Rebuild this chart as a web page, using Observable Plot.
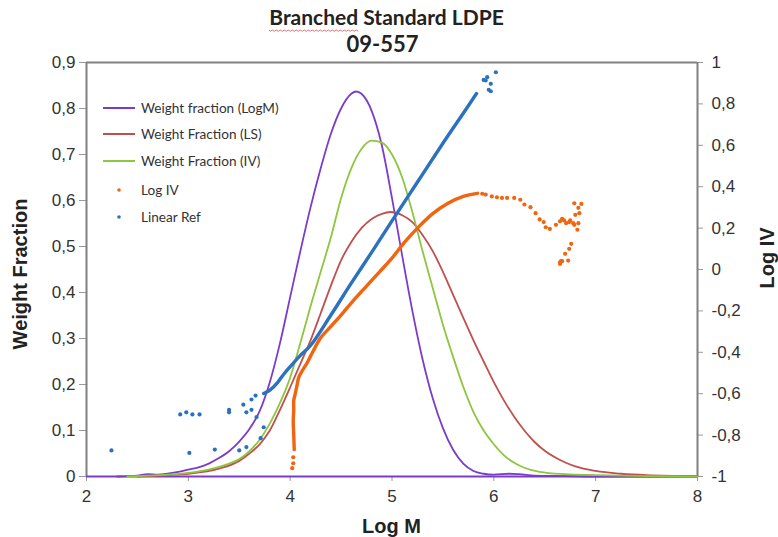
<!DOCTYPE html>
<html>
<head>
<meta charset="utf-8">
<script src="https://cdn.jsdelivr.net/npm/d3@7"></script>
<script src="https://cdn.jsdelivr.net/npm/@observablehq/plot@0.6"></script>
<style>
  html, body { margin: 0; padding: 0; background: #fff; }
  svg { display: block; }
</style>
</head>
<body>
<script>
// ---- Weight fraction curves (left axis) ----
const logMX = [2.3, 2.5, 2.6, 2.7, 2.9, 3.0, 3.1, 3.2, 3.3, 3.4, 3.5, 3.6, 3.7, 3.8, 3.9, 4.0, 4.1, 4.2, 4.3, 4.4, 4.5, 4.6, 4.65, 4.7, 4.8, 4.9, 5.0, 5.1, 5.2, 5.3, 5.4, 5.5, 5.6, 5.7, 5.8, 5.9, 6.0, 6.15, 6.25, 6.4, 6.7, 7.0, 8.0];
const logMY = [0, 0.002, 0.005, 0.004, 0.01, 0.015, 0.02, 0.028, 0.04, 0.055, 0.076, 0.103, 0.142, 0.205, 0.29, 0.39, 0.49, 0.585, 0.67, 0.745, 0.80, 0.832, 0.837, 0.832, 0.795, 0.72, 0.605, 0.48, 0.36, 0.255, 0.17, 0.105, 0.058, 0.028, 0.012, 0.006, 0.004, 0.006, 0.005, 0.002, 0.001, 0, 0];

const lsX = [2.5, 2.8, 3.0, 3.3, 3.5, 3.6, 3.7, 3.8, 3.9, 4.0, 4.1, 4.2, 4.3, 4.4, 4.5, 4.6, 4.7, 4.8, 4.9, 4.985, 5.1, 5.2, 5.3, 5.4, 5.5, 5.6, 5.7, 5.8, 5.9, 6.0, 6.1, 6.2, 6.3, 6.4, 6.5, 6.65, 6.8, 7.0, 7.25, 7.5, 8.0];
const lsY = [0, 0.003, 0.006, 0.017, 0.034, 0.05, 0.07, 0.1, 0.145, 0.194, 0.245, 0.296, 0.355, 0.415, 0.47, 0.51, 0.54, 0.56, 0.571, 0.575, 0.568, 0.553, 0.525, 0.49, 0.445, 0.395, 0.345, 0.296, 0.25, 0.205, 0.165, 0.13, 0.1, 0.075, 0.056, 0.036, 0.022, 0.012, 0.006, 0.003, 0.001];

const ivX = [2.4, 2.6, 2.8, 3.0, 3.2, 3.4, 3.5, 3.6, 3.7, 3.8, 3.9, 4.0, 4.1, 4.2, 4.3, 4.4, 4.5, 4.6, 4.7, 4.8, 4.9, 5.0, 5.1, 5.2, 5.3, 5.4, 5.5, 5.6, 5.7, 5.8, 5.9, 6.0, 6.1, 6.2, 6.3, 6.45, 6.7, 7.0, 7.5, 8.0];
const ivY = [0, 0.002, 0.004, 0.008, 0.015, 0.028, 0.038, 0.055, 0.08, 0.115, 0.16, 0.215, 0.29, 0.37, 0.445, 0.52, 0.605, 0.67, 0.712, 0.73, 0.726, 0.70, 0.65, 0.575, 0.49, 0.41, 0.33, 0.26, 0.195, 0.14, 0.10, 0.07, 0.046, 0.03, 0.019, 0.01, 0.005, 0.003, 0.001, 0];

// ---- Log IV (right axis): dense ridge and isolated points ----
const logIvBandX = [4.04, 4.035, 4.03, 4.035, 4.035, 4.05, 4.07, 4.085, 4.12, 4.17, 4.23, 4.3, 4.4, 4.5, 4.62, 4.75, 4.88, 5.0, 5.12, 5.25, 5.4, 5.55, 5.7, 5.84];
const logIvBandY = [-0.87, -0.80, -0.73, -0.68, -0.633, -0.60, -0.552, -0.52, -0.488, -0.448, -0.39, -0.33, -0.275, -0.22, -0.15, -0.08, -0.01, 0.055, 0.13, 0.20, 0.27, 0.32, 0.353, 0.368];
const logIvDotsX = [4.02, 4.03, 4.03, 5.886, 5.92, 5.98, 6.03, 6.08, 6.13, 6.20, 6.26, 6.30, 6.36, 6.41, 6.45, 6.49, 6.51, 6.55, 6.61, 6.65, 6.67, 6.69, 6.71, 6.74, 6.75, 6.78, 6.79, 6.82, 6.83, 6.84, 6.83, 6.79, 6.86, 6.80, 6.76, 6.74, 6.70, 6.73, 6.67, 6.65, 6.65, 6.66];
const logIvDotsY = [-0.96, -0.936, -0.907, 0.366, 0.362, 0.353, 0.349, 0.346, 0.346, 0.346, 0.337, 0.314, 0.301, 0.272, 0.242, 0.229, 0.204, 0.196, 0.216, 0.233, 0.245, 0.237, 0.224, 0.229, 0.237, 0.224, 0.216, 0.192, 0.224, 0.272, 0.298, 0.320, 0.317, 0.264, 0.124, 0.100, 0.076, 0.043, 0.040, 0.035, 0.027, 0.040];

// ---- Linear reference (right axis) ----
const linRefBandX = [3.74, 3.807, 3.876, 3.935, 4.003, 4.10, 4.20, 4.4, 4.6, 4.8, 5.0, 5.26, 5.5, 5.7, 5.83];
const linRefBandY = [-0.599, -0.58, -0.546, -0.507, -0.468, -0.415, -0.367, -0.22, -0.066, 0.083, 0.235, 0.43, 0.61, 0.755, 0.85];
const linRefDotsX = [2.245, 2.92, 2.98, 3.04, 3.11, 3.01, 3.26, 3.40, 3.40, 3.50, 3.57, 3.54, 3.57, 3.62, 3.62, 3.66, 3.67, 3.74, 3.71, 5.90, 5.92, 5.935, 5.95, 5.97, 5.97, 6.02];
const linRefDotsY = [-0.874, -0.70, -0.69, -0.70, -0.70, -0.886, -0.87, -0.678, -0.690, -0.874, -0.858, -0.653, -0.690, -0.678, -0.628, -0.609, -0.713, -0.762, -0.815, 0.916, 0.913, 0.929, 0.868, 0.861, 0.897, 0.953];

// ---- Axis ticks ----
const xTicks = [2, 3, 4, 5, 6, 7, 8];
const leftTicks = [0, 0.1, 0.2, 0.3, 0.4, 0.5, 0.6, 0.7, 0.8, 0.9];
const rightTicks = [-1, -0.8, -0.6, -0.4, -0.2, 0, 0.2, 0.4, 0.6, 0.8, 1];

const colors = {
  logM: "#7b3cc8",
  ls: "#c0504d",
  iv: "#8dc63f",
  logIv: "#f0650e",
  linRef: "#2a72c0",
  frame: "#808080"
};

// right axis (-1..1) mapped onto the left scale (0..0.9)
const toLeft = r => (r + 1) * 0.45;
const fromLeft = v => Math.round((v / 0.45 - 1) * 10) / 10;
const comma = v => (Math.round(v * 10) / 10).toString().replace(".", ",");

const pts = (xs, ys, f = d => d) => xs.map((x, i) => ({x, y: f(ys[i])}));

const logM = pts(logMX, logMY);
const ls = pts(lsX, lsY);
const iv = pts(ivX, ivY);
const logIvBand = pts(logIvBandX, logIvBandY, toLeft);
const logIvDots = pts(logIvDotsX, logIvDotsY, toLeft);
const linRefBand = pts(linRefBandX, linRefBandY, toLeft);
const linRefDots = pts(linRefDotsX, linRefDotsY, toLeft);

const W = 778, H = 537;
const mL = 86, mR = 81, mT = 62, mB = 61;

const chart = Plot.plot({
  width: W,
  height: H,
  marginLeft: mL,
  marginRight: mR,
  marginTop: mT,
  marginBottom: mB,
  style: {fontFamily: "'Liberation Sans', Arial, sans-serif", fontSize: "17px", color: "#333", background: "#fff"},
  x: {domain: [2, 8]},
  y: {domain: [0, 0.9]},
  marks: [
    Plot.axisX({ticks: xTicks, tickSize: 5, tickPadding: 8, tickFormat: d => String(d), stroke: "#999", label: null, fontSize: 17}),
    Plot.axisY({ticks: leftTicks, tickSize: 7, tickPadding: 4, tickFormat: comma, stroke: "#999", label: null, fontSize: 17}),
    Plot.axisY({anchor: "right", ticks: rightTicks.map(toLeft), tickSize: 5, tickPadding: 9, tickFormat: d => comma(fromLeft(d)), stroke: "#999", label: null, fontSize: 17}),
    Plot.ruleX([2, 8], {stroke: colors.frame, strokeWidth: 2}),
    Plot.ruleY([0.9], {stroke: colors.frame, strokeWidth: 2}),
    Plot.ruleY([0], {stroke: colors.logM, strokeWidth: 2}),
    Plot.line(logM, {x: "x", y: "y", stroke: colors.logM, strokeWidth: 1.8, curve: "monotone-x"}),
    Plot.line(ls, {x: "x", y: "y", stroke: colors.ls, strokeWidth: 1.8, curve: "monotone-x"}),
    Plot.line(iv, {x: "x", y: "y", stroke: colors.iv, strokeWidth: 1.8, curve: "monotone-x"}),
    Plot.line(logIvBand, {x: "x", y: "y", stroke: colors.logIv, strokeWidth: 3.4, curve: "catmull-rom", strokeLinecap: "round"}),
    Plot.dot(logIvDots, {x: "x", y: "y", r: 2.1, fill: colors.logIv}),
    Plot.line(linRefBand, {x: "x", y: "y", stroke: colors.linRef, strokeWidth: 3.4, curve: "catmull-rom", strokeLinecap: "round"}),
    Plot.dot(linRefDots, {x: "x", y: "y", r: 2.1, fill: colors.linRef})
  ]
});

document.body.appendChild(chart);

const svg = d3.select(chart);
const cx = mL + (W - mL - mR) / 2;

// title
const title = svg.append("g")
  .attr("font-family", "Lato, 'Open Sans', sans-serif")
  .attr("font-weight", "bold")
  .attr("font-size", 21)
  .attr("fill", "#222")
  .attr("text-anchor", "middle");
const t1 = title.append("text").attr("x", cx - 5).attr("y", 25).text("Branched Standard LDPE");
title.append("text").attr("x", cx - 9).attr("y", 52).attr("font-size", 22).text("09-557");

// spell-check squiggle under the first word
{
  const box = t1.node().getBBox();
  const probe = title.append("text").attr("x", 0).attr("y", -100).text("Branched");
  const w = probe.node().getComputedTextLength();
  probe.remove();
  const x0 = box.x, y0 = 30;
  let d = `M${x0},${y0}`;
  for (let x = x0; x < x0 + w; x += 2) d += `L${x + 1},${(x - x0) / 2 % 2 ? y0 : y0 + 1.3}`;
  svg.append("path").attr("d", d).attr("fill", "none").attr("stroke", "#e8494a").attr("stroke-width", 0.8);
}

// axis labels
const lab = svg.append("g")
  .attr("font-family", "'Liberation Sans', Arial, sans-serif")
  .attr("font-weight", "bold")
  .attr("font-size", 20)
  .attr("fill", "#222")
  .attr("text-anchor", "middle");
lab.append("text").attr("x", cx).attr("y", 533).text("Log M");
lab.append("text").attr("transform", `translate(27,${mT + (H - mT - mB) / 2 + 5}) rotate(-90)`).text("Weight Fraction");
lab.append("text").attr("transform", `translate(774,${258}) rotate(-90)`).text("Log IV");

// legend
const legendItems = [
  {label: "Weight fraction (LogM)", color: colors.logM, type: "line"},
  {label: "Weight Fraction (LS)", color: colors.ls, type: "line"},
  {label: "Weight Fraction (IV)", color: colors.iv, type: "line"},
  {label: "Log IV", color: colors.logIv, type: "dot"},
  {label: "Linear Ref", color: colors.linRef, type: "dot"}
];
const legendY = [108, 134, 161, 190, 217];
const lg = svg.append("g")
  .attr("font-family", "Lato, 'Open Sans', sans-serif")
  .attr("font-size", 13.6)
  .attr("fill", "#333")
  .attr("text-anchor", "start");
legendItems.forEach((it, i) => {
  const y = legendY[i];
  if (it.type === "line") {
    lg.append("line").attr("x1", 103).attr("x2", 135).attr("y1", y).attr("y2", y)
      .attr("stroke", it.color).attr("stroke-width", 2);
  } else {
    lg.append("circle").attr("cx", 119).attr("cy", y).attr("r", 1.8).attr("fill", it.color);
  }
  lg.append("text").attr("x", 141).attr("y", y + 5).text(it.label);
});
</script>
</body>
</html>
